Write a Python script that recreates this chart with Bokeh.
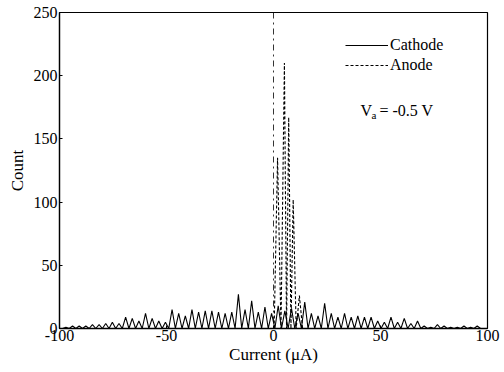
import numpy as np
from bokeh.plotting import figure
from bokeh.models import Span, Label, Legend, LegendItem, FixedTicker
from bokeh.embed import file_html
from bokeh.resources import INLINE

# ---- data ----
# Cathode histogram: bins (step 1.55 uA), counts alternate peak / empty bin
cathode_start = -98.55
cathode_step = 1.55
cathode_counts = [
    0, 1, 0, 2, 0, 2, 0, 2, 0, 3, 0, 3, 0, 4, 0, 5, 0, 4, 0, 9, 0, 8, 0, 6, 0, 12,
    0, 8, 0, 6, 0, 5, 0, 15, 0, 12, 0, 10, 0, 15, 0, 13, 0, 14, 0, 14, 0, 13, 0, 12,
    0, 13, 0, 27, 0, 15, 0, 22, 0, 13, 0, 17, 0, 12, 0, 18, 0, 14, 0, 16, 0, 12,
    0, 21, 0, 12, 0, 10, 0, 20, 0, 12, 0, 9, 0, 12, 0, 9, 0, 10, 0, 9, 0, 9, 0, 6,
    0, 5, 0, 9, 0, 5, 0, 8, 0, 4, 0, 6, 0, 2, 0, 1, 0, 3, 0, 2, 0, 1, 0, 1, 0, 2,
    0, 1, 0, 2, 0,
]
anode_x = [0.3, 1.9, 3.5, 5.1, 6.1, 7.1, 8.15, 9.2, 10.6, 12.1, 13.6]
anode_counts = [0, 135, 0, 210, 0, 167, 0, 102, 0, 26, 0]

x_ticks = [-100, -50, 0, 50, 100]
x_tick_labels = ["-100", "-50", "0", "50", "100"]
y_ticks = [0, 50, 100, 150, 200, 250]

cathode_x = cathode_start + cathode_step * np.arange(len(cathode_counts))

SERIF = "Liberation Serif"

p = figure(width=504, height=372, x_range=(-100, 100), y_range=(0, 250),
           output_backend="svg", toolbar_location=None,
           min_border_left=59, min_border_right=17, min_border_top=12,
           min_border_bottom=44)

p.background_fill_color = "white"
p.border_fill_color = "white"
p.outline_line_color = "black"
p.outline_line_width = 1.2
p.grid.visible = False

for ax in (p.xaxis[0], p.yaxis[0]):
    ax.axis_line_color = "black"
    ax.axis_line_width = 1.3
    ax.major_tick_in = 3
    ax.major_tick_out = 0
    ax.minor_tick_line_color = None
    ax.major_label_text_font = SERIF
    ax.major_label_text_font_size = "16px"
    ax.major_label_text_color = "black"
    ax.axis_label_text_font = SERIF
    ax.axis_label_text_font_size = "17px"
    ax.axis_label_text_font_style = "normal"
    ax.axis_label_text_color = "black"

p.xaxis.ticker = FixedTicker(ticks=x_ticks)
p.xaxis.major_label_overrides = {float(t): s for t, s in zip(x_ticks, x_tick_labels)}
p.yaxis.ticker = FixedTicker(ticks=y_ticks)
p.xaxis.axis_label = "Current (μA)"
p.yaxis.axis_label = "Count"
p.xaxis.major_label_standoff = 1
p.xaxis.axis_label_standoff = 1
p.yaxis.major_label_standoff = 2
p.yaxis.axis_label_standoff = 4

vline = Span(location=0, dimension="height", line_color="black",
             line_width=0.8, line_dash="dashdot")
p.add_layout(vline)

r_c = p.line(cathode_x, cathode_counts, line_color="black", line_width=1.1)
r_a = p.line(anode_x, anode_counts, line_color="black", line_width=1.1,
             line_dash="3 2")

legend = Legend(items=[LegendItem(label="Cathode", renderers=[r_c]),
                       LegendItem(label="Anode", renderers=[r_a])],
                location=(286, 253))
legend.background_fill_alpha = 0
legend.border_line_color = None
legend.glyph_width = 43
legend.glyph_height = 20
legend.label_height = 20
legend.label_standoff = 2
legend.spacing = 0
legend.padding = 0
legend.margin = 0
legend.label_text_font = SERIF
legend.label_text_font_size = "16px"
legend.label_text_color = "black"
p.add_layout(legend, "center")

lab_style = dict(x_units="screen", y_units="screen", text_font=SERIF,
                 text_color="black", text_baseline="alphabetic")
p.add_layout(Label(x=301, y=218, text="V", text_font_size="16px", **lab_style))
p.add_layout(Label(x=312, y=214, text="a", text_font_size="11px", **lab_style))
p.add_layout(Label(x=320, y=218, text="= -0.5 V", text_font_size="16px", **lab_style))

open("out.html", "w").write(file_html(p, INLINE))
